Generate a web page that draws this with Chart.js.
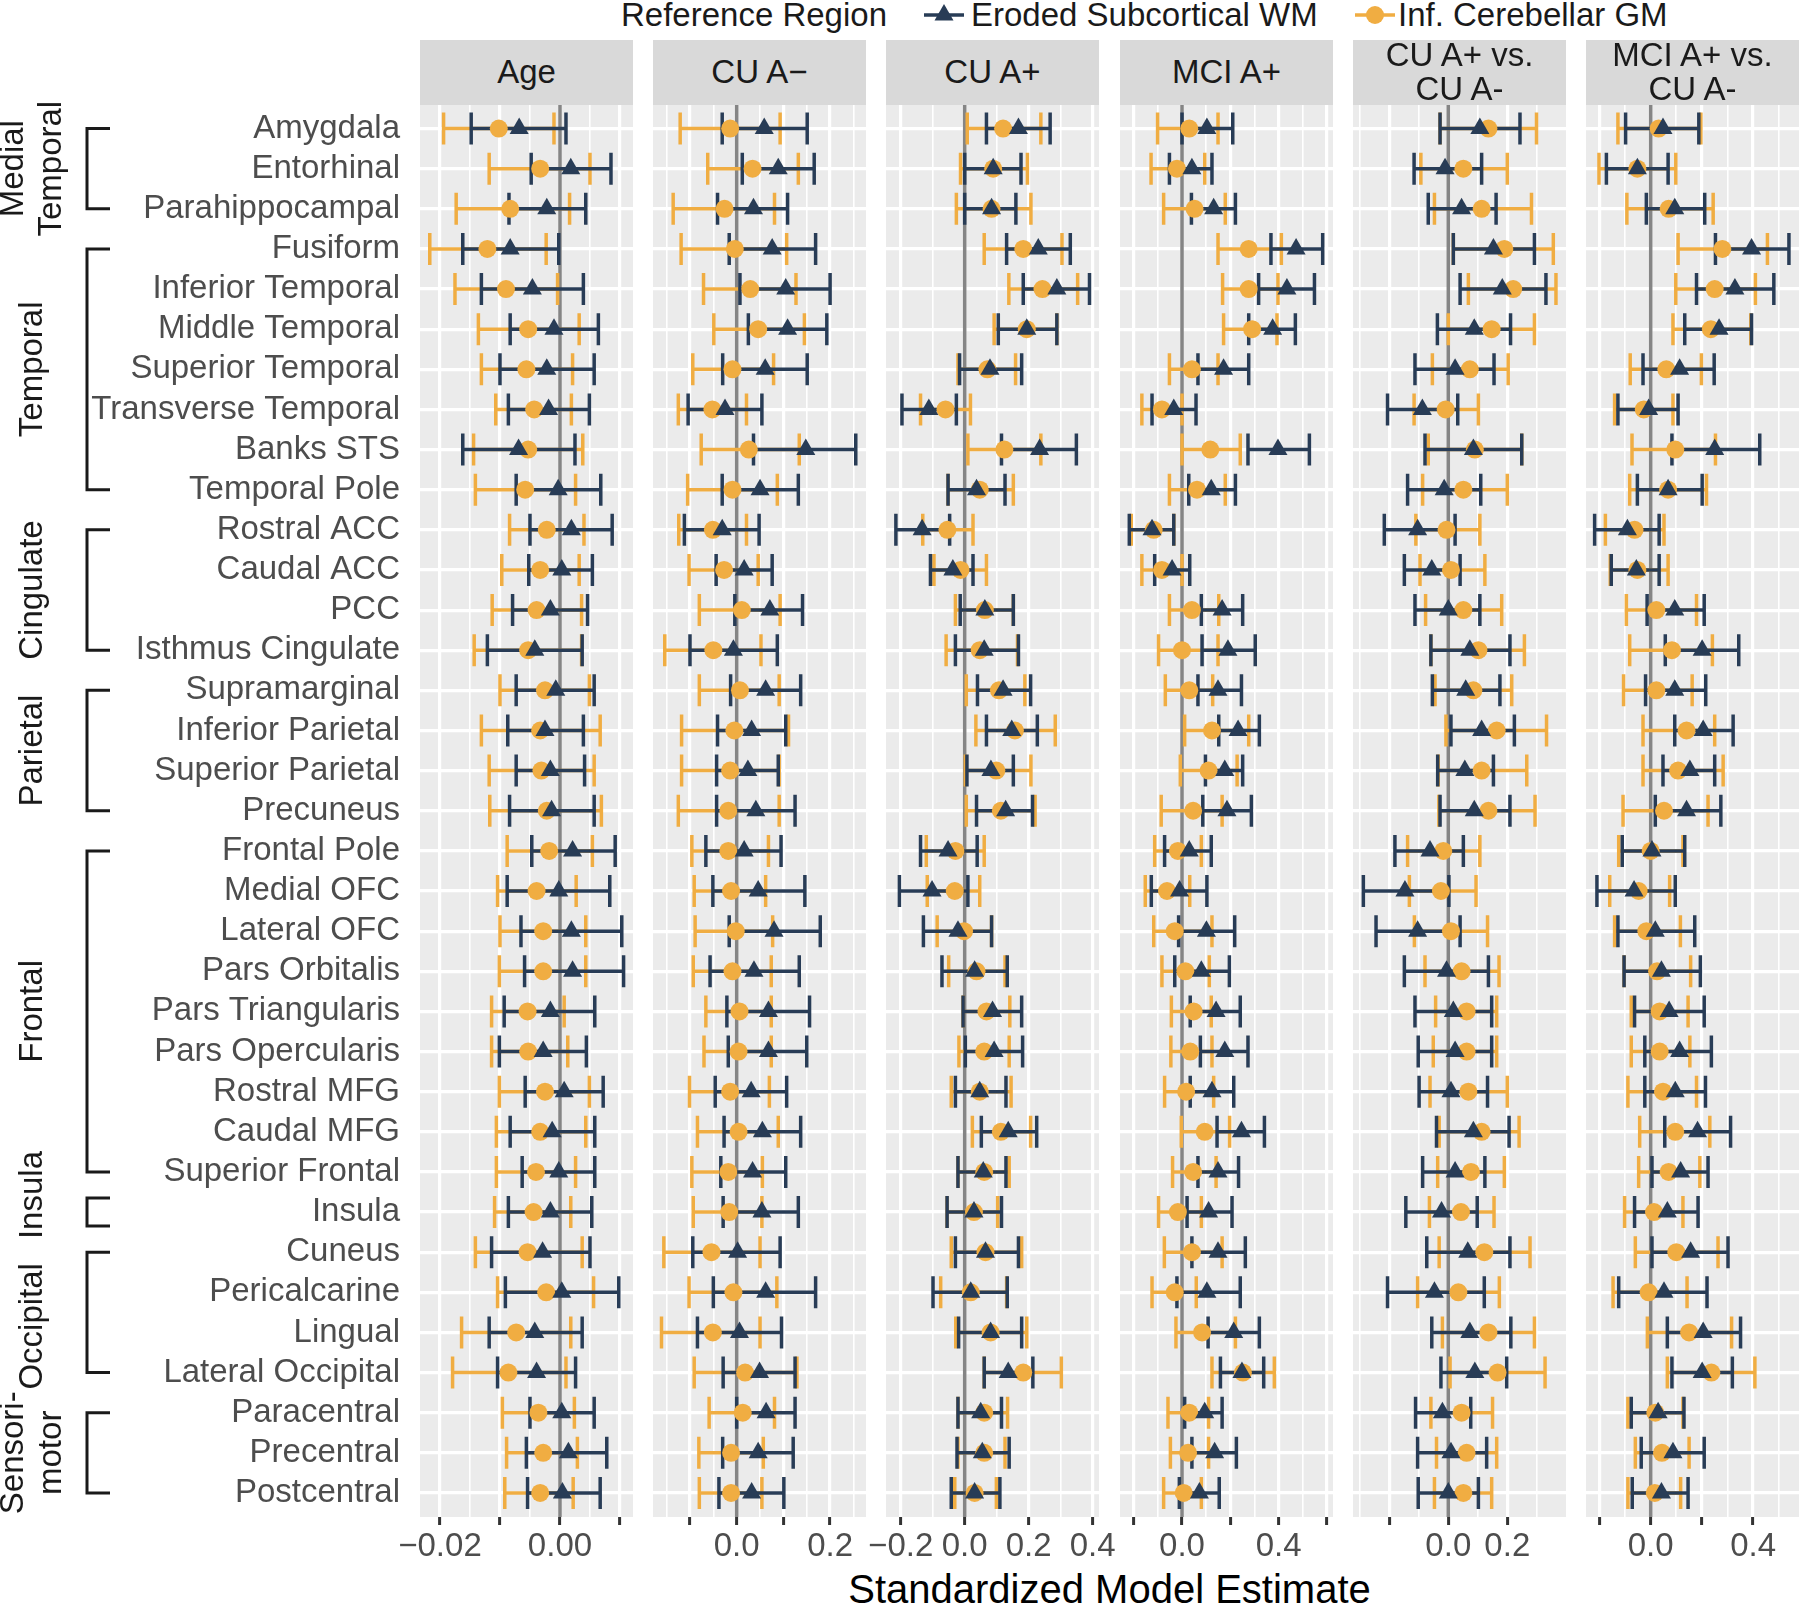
<!DOCTYPE html>
<html>
<head>
<meta charset="utf-8">
<script src="https://cdn.jsdelivr.net/npm/chart.js@4.4.1/dist/chart.umd.min.js"></script>
<style>
html,body{margin:0;padding:0;background:#fff;}
body{width:1800px;height:1605px;position:relative;overflow:hidden;font-family:"Liberation Sans",Arial,sans-serif;}
canvas{position:absolute;top:0;}
.strip{position:absolute;top:40px;height:64.5px;width:213px;background:#d9d9d9;color:#1a1a1a;font-size:33px;line-height:34px;display:flex;align-items:center;justify-content:center;text-align:center;}
.lg{position:absolute;top:-4px;font-size:33px;line-height:38px;color:#1a1a1a;white-space:nowrap;}
.key{position:absolute;top:0;}
#xtitle{position:absolute;left:420px;width:1379px;top:1566px;text-align:center;font-size:40px;line-height:46px;color:#000;}
</style>
</head>
<body>
<div class="lg" style="left:621px">Reference Region</div>
<svg class="key" style="left:922px" width="44" height="30"><line x1="2" y1="15" x2="42" y2="15" stroke="#283c56" stroke-width="3.5"/><polygon points="22,4 31.5,20.5 12.5,20.5" fill="#283c56"/></svg>
<div class="lg" style="left:971px">Eroded Subcortical WM</div>
<svg class="key" style="left:1353px" width="44" height="30"><line x1="2" y1="15" x2="42" y2="15" stroke="#f0ad42" stroke-width="3.5"/><circle cx="22" cy="15" r="9" fill="#f0ad42"/></svg>
<div class="lg" style="left:1398px">Inf. Cerebellar GM</div>
<div id="xtitle">Standardized Model Estimate</div>
<script>
const regions = ["Amygdala","Entorhinal","Parahippocampal","Fusiform","Inferior Temporal","Middle Temporal",
  "Superior Temporal","Transverse Temporal","Banks STS","Temporal Pole","Rostral ACC","Caudal ACC","PCC",
  "Isthmus Cingulate","Supramarginal","Inferior Parietal","Superior Parietal","Precuneus","Frontal Pole",
  "Medial OFC","Lateral OFC","Pars Orbitalis","Pars Triangularis","Pars Opercularis","Rostral MFG",
  "Caudal MFG","Superior Frontal","Insula","Cuneus","Pericalcarine","Lingual","Lateral Occipital",
  "Paracentral","Precentral","Postcentral"];

const groups = [
  {name:"Medial\nTemporal", from:0, to:2},
  {name:"Temporal", from:3, to:9},
  {name:"Cingulate", from:10, to:13},
  {name:"Parietal", from:14, to:17},
  {name:"Frontal", from:18, to:26},
  {name:"Insula", from:27, to:27},
  {name:"Occipital", from:28, to:31},
  {name:"Sensori-\nmotor", from:32, to:34}
];

const panelTitles = ["Age","CU A\u2212","CU A+","MCI A+","CU A+ vs.<br>CU A-","MCI A+ vs.<br>CU A-"];

// [lower, estimate, upper] per region
const ageGM = [[-0.0194,-0.0102,-0.0010],[-0.0118,-0.0033,0.0050],[-0.0173,-0.0083,0.0016],[-0.0217,-0.0121,-0.0023],
[-0.0175,-0.0090,-0.0004],[-0.0136,-0.0053,0.0032],[-0.0131,-0.0056,0.0021],[-0.0107,-0.0043,0.0019],[-0.0144,-0.0053,0.0038],
[-0.0141,-0.0058,0.0026],[-0.0084,-0.0022,0.0040],[-0.0097,-0.0033,0.0032],[-0.0113,-0.0039,0.0036],[-0.0143,-0.0053,0.0036],
[-0.0100,-0.0025,0.0049],[-0.0131,-0.0033,0.0067],[-0.0118,-0.0031,0.0057],[-0.0117,-0.0022,0.0069],[-0.0088,-0.0018,0.0054],
[-0.0104,-0.0039,0.0027],[-0.0100,-0.0028,0.0043],[-0.0101,-0.0028,0.0043],[-0.0114,-0.0054,0.0007],[-0.0114,-0.0053,0.0013],
[-0.0101,-0.0025,0.0049],[-0.0106,-0.0033,0.0043],[-0.0106,-0.0040,0.0026],[-0.0109,-0.0044,0.0018],[-0.0141,-0.0054,0.0037],
[-0.0104,-0.0023,0.0056],[-0.0164,-0.0073,0.0018],[-0.0179,-0.0086,0.0010],[-0.0096,-0.0036,0.0024],[-0.0089,-0.0028,0.0029],
[-0.0092,-0.0033,0.0022]];
const ageWM = [[-0.0148,-0.0068,0.0010],[-0.0048,0.0018,0.0085],[-0.0085,-0.0022,0.0043],[-0.0162,-0.0083,-0.0002],
[-0.0131,-0.0046,0.0039],[-0.0083,-0.0010,0.0064],[-0.0100,-0.0022,0.0057],[-0.0086,-0.0019,0.0049],[-0.0162,-0.0069,0.0025],
[-0.0073,-0.0003,0.0068],[-0.0050,0.0019,0.0087],[-0.0052,0.0003,0.0054],[-0.0079,-0.0016,0.0046],[-0.0121,-0.0042,0.0037],
[-0.0073,-0.0007,0.0057],[-0.0087,-0.0025,0.0039],[-0.0073,-0.0016,0.0041],[-0.0084,-0.0014,0.0057],[-0.0047,0.0021,0.0092],
[-0.0088,-0.0002,0.0083],[-0.0065,0.0019,0.0103],[-0.0059,0.0021,0.0106],[-0.0093,-0.0016,0.0058],[-0.0101,-0.0028,0.0044],
[-0.0058,0.0007,0.0072],[-0.0083,-0.0013,0.0058],[-0.0063,-0.0002,0.0058],[-0.0086,-0.0016,0.0053],[-0.0114,-0.0029,0.0050],
[-0.0091,0.0003,0.0098],[-0.0118,-0.0042,0.0037],[-0.0104,-0.0039,0.0026],[-0.0050,0.0003,0.0057],[-0.0056,0.0014,0.0078],
[-0.0054,0.0004,0.0067]];

const cuNegGM = [[-0.121,-0.014,0.093],[-0.062,0.034,0.132],[-0.136,-0.026,0.081],[-0.119,-0.004,0.107],[-0.071,0.029,0.127],
[-0.049,0.046,0.145],[-0.094,-0.009,0.079],[-0.125,-0.052,0.021],[-0.076,0.026,0.134],[-0.105,-0.009,0.087],[-0.124,-0.051,0.021],
[-0.102,-0.027,0.046],[-0.080,0.011,0.093],[-0.154,-0.050,0.052],[-0.080,0.007,0.091],[-0.118,-0.005,0.111],[-0.118,-0.014,0.091],
[-0.125,-0.018,0.091],[-0.096,-0.018,0.068],[-0.091,-0.012,0.062],[-0.089,-0.002,0.077],[-0.093,-0.009,0.074],[-0.066,0.006,0.074],
[-0.070,0.004,0.074],[-0.101,-0.014,0.070],[-0.084,0.004,0.089],[-0.096,-0.018,0.055],[-0.093,-0.016,0.054],[-0.156,-0.054,0.050],
[-0.102,-0.007,0.086],[-0.161,-0.051,0.050],[-0.091,0.018,0.129],[-0.059,0.013,0.081],[-0.081,-0.012,0.057],[-0.080,-0.012,0.054]];
const cuNegWM = [[-0.031,0.059,0.151],[0.012,0.089,0.166],[-0.041,0.036,0.109],[-0.016,0.076,0.169],[0.007,0.105,0.200],
[0.025,0.109,0.193],[-0.030,0.061,0.151],[-0.104,-0.025,0.054],[0.036,0.148,0.255],[-0.031,0.050,0.132],[-0.112,-0.031,0.048],
[-0.044,0.016,0.076],[-0.004,0.071,0.141],[-0.100,-0.007,0.087],[-0.013,0.062,0.137],[-0.041,0.032,0.105],[-0.043,0.024,0.089],
[-0.043,0.041,0.125],[-0.066,0.016,0.095],[-0.051,0.046,0.146],[-0.016,0.080,0.179],[-0.057,0.037,0.134],[-0.021,0.068,0.156],
[-0.018,0.068,0.150],[-0.046,0.031,0.107],[-0.027,0.055,0.137],[-0.034,0.034,0.105],[-0.029,0.054,0.132],[-0.094,0.002,0.093],
[-0.050,0.062,0.169],[-0.084,0.006,0.096],[-0.029,0.049,0.125],[0.000,0.063,0.125],[-0.030,0.046,0.121],[-0.038,0.032,0.101]];

const cuPosGM = [[0.008,0.120,0.238],[-0.013,0.089,0.196],[-0.026,0.084,0.207],[0.061,0.183,0.304],[0.138,0.243,0.353],
[0.092,0.194,0.288],[-0.021,0.071,0.159],[-0.138,-0.060,0.018],[0.010,0.124,0.238],[-0.052,0.047,0.152],[-0.131,-0.054,0.026],
[-0.096,-0.013,0.068],[-0.029,0.063,0.152],[-0.058,0.047,0.165],[0.005,0.107,0.188],[0.035,0.157,0.283],[0.002,0.099,0.207],
[0.005,0.113,0.220],[-0.120,-0.029,0.061],[-0.117,-0.031,0.047],[-0.086,-0.002,0.084],[-0.050,0.037,0.126],[-0.005,0.068,0.141],
[-0.018,0.061,0.139],[-0.042,0.047,0.145],[0.024,0.113,0.206],[-0.021,0.061,0.139],[-0.055,0.029,0.103],[-0.042,0.065,0.178],
[-0.075,0.019,0.131],[-0.028,0.081,0.194],[0.061,0.183,0.302],[-0.021,0.061,0.134],[-0.021,0.061,0.126],[-0.031,0.031,0.099]];
const cuPosWM = [[0.068,0.168,0.267],[0.000,0.089,0.176],[0.000,0.084,0.160],[0.131,0.230,0.330],[0.183,0.288,0.390],
[0.105,0.194,0.288],[-0.016,0.079,0.178],[-0.196,-0.112,-0.026],[0.115,0.234,0.349],[-0.052,0.037,0.126],[-0.215,-0.133,-0.047],
[-0.107,-0.037,0.026],[-0.014,0.063,0.152],[-0.029,0.061,0.168],[0.040,0.120,0.206],[0.068,0.147,0.227],[0.007,0.082,0.152],
[0.037,0.128,0.212],[-0.138,-0.052,0.039],[-0.204,-0.102,0.010],[-0.129,-0.021,0.084],[-0.071,0.031,0.133],[-0.005,0.087,0.178],
[0.002,0.092,0.181],[-0.029,0.047,0.129],[0.052,0.136,0.225],[-0.021,0.058,0.129],[-0.055,0.029,0.115],[-0.029,0.065,0.168],
[-0.099,0.019,0.133],[-0.019,0.081,0.178],[0.061,0.136,0.213],[-0.021,0.050,0.115],[-0.024,0.055,0.139],[-0.042,0.031,0.110]];

const mciPosGM = [[-0.101,0.030,0.149],[-0.128,-0.021,0.094],[-0.076,0.052,0.179],[0.149,0.276,0.411],[0.168,0.276,0.397],
[0.172,0.290,0.393],[-0.052,0.041,0.149],[-0.166,-0.083,0.000],[0.000,0.117,0.241],[-0.052,0.062,0.179],[-0.210,-0.117,-0.034],
[-0.166,-0.083,0.000],[-0.052,0.041,0.152],[-0.097,0.000,0.149],[-0.069,0.030,0.127],[0.011,0.124,0.276],[-0.007,0.110,0.228],
[-0.086,0.046,0.166],[-0.113,-0.017,0.080],[-0.152,-0.062,0.032],[-0.117,-0.030,0.124],[-0.083,0.014,0.113],[-0.044,0.048,0.121],
[-0.046,0.034,0.124],[-0.072,0.017,0.131],[-0.003,0.094,0.197],[-0.039,0.046,0.141],[-0.097,-0.017,0.080],[-0.073,0.041,0.166],
[-0.124,-0.030,0.059],[-0.025,0.083,0.221],[0.124,0.252,0.382],[-0.058,0.030,0.110],[-0.048,0.025,0.110],[-0.076,0.007,0.080]];
const mciPosWM = [[0.000,0.103,0.210],[-0.052,0.041,0.124],[0.039,0.131,0.221],[0.368,0.472,0.582],[0.317,0.434,0.548],
[0.276,0.375,0.469],[0.066,0.172,0.276],[-0.124,-0.034,0.058],[0.273,0.397,0.527],[0.028,0.121,0.221],[-0.218,-0.124,-0.034],
[-0.113,-0.041,0.032],[0.080,0.166,0.251],[0.083,0.190,0.303],[0.066,0.149,0.246],[0.152,0.232,0.320],[0.097,0.177,0.251],
[0.086,0.186,0.287],[-0.072,0.030,0.121],[-0.127,-0.010,0.103],[-0.014,0.101,0.218],[-0.030,0.080,0.196],[0.034,0.141,0.241],
[0.076,0.177,0.273],[0.034,0.124,0.214],[0.145,0.246,0.341],[0.066,0.149,0.234],[0.021,0.110,0.207],[0.041,0.149,0.262],
[-0.021,0.103,0.241],[0.108,0.214,0.320],[0.159,0.248,0.338],[0.011,0.094,0.166],[0.041,0.135,0.225],[-0.011,0.072,0.154]];

const cuDiffGM = [[-0.028,0.136,0.299],[-0.093,0.051,0.200],[-0.047,0.113,0.282],[0.017,0.190,0.356],[0.068,0.220,0.365],
[0.000,0.147,0.292],[-0.054,0.073,0.203],[-0.116,-0.009,0.102],[-0.068,0.090,0.249],[-0.087,0.051,0.200],[-0.110,-0.006,0.107],
[-0.096,0.009,0.124],[-0.077,0.051,0.181],[-0.059,0.102,0.258],[-0.045,0.085,0.215],[-0.008,0.164,0.333],[-0.034,0.113,0.266],
[-0.032,0.136,0.294],[-0.138,-0.017,0.107],[-0.132,-0.025,0.094],[-0.115,0.009,0.133],[-0.079,0.045,0.172],[-0.043,0.062,0.164],
[-0.051,0.062,0.164],[-0.062,0.068,0.200],[-0.031,0.113,0.240],[-0.036,0.077,0.190],[-0.064,0.043,0.155],[-0.031,0.122,0.277],
[-0.104,0.034,0.173],[-0.020,0.136,0.292],[0.006,0.167,0.328],[-0.059,0.045,0.150],[-0.040,0.062,0.164],[-0.047,0.051,0.147]];
const cuDiffWM = [[-0.028,0.107,0.243],[-0.116,-0.011,0.113],[-0.068,0.045,0.162],[0.017,0.153,0.292],[0.040,0.183,0.331],
[-0.037,0.088,0.211],[-0.113,0.023,0.155],[-0.206,-0.088,0.032],[-0.079,0.085,0.249],[-0.138,-0.014,0.110],[-0.217,-0.104,0.023],
[-0.149,-0.056,0.040],[-0.113,0.000,0.107],[-0.059,0.073,0.209],[-0.054,0.059,0.175],[0.009,0.113,0.224],[-0.036,0.056,0.153],
[-0.028,0.088,0.209],[-0.181,-0.062,0.051],[-0.288,-0.147,0.002],[-0.245,-0.104,0.040],[-0.149,-0.006,0.136],[-0.113,0.017,0.147],
[-0.102,0.023,0.147],[-0.099,0.009,0.133],[-0.040,0.085,0.206],[-0.087,0.023,0.124],[-0.144,-0.023,0.098],[-0.073,0.066,0.209],
[-0.206,-0.047,0.122],[-0.056,0.073,0.212],[-0.025,0.090,0.198],[-0.111,-0.020,0.076],[-0.104,0.009,0.130],[-0.102,0.000,0.102]];

const mciDiffGM = [[-0.128,0.031,0.196],[-0.202,-0.052,0.098],[-0.093,0.070,0.244],[0.107,0.280,0.456],[0.098,0.250,0.409],
[0.087,0.235,0.391],[-0.080,0.061,0.198],[-0.141,-0.027,0.087],[-0.073,0.096,0.253],[-0.082,0.068,0.218],[-0.177,-0.063,0.052],
[-0.158,-0.052,0.068],[-0.095,0.022,0.179],[-0.082,0.083,0.241],[-0.106,0.022,0.162],[-0.030,0.140,0.250],[-0.030,0.107,0.283],
[-0.108,0.052,0.224],[-0.125,0.000,0.126],[-0.160,-0.047,0.074],[-0.141,-0.017,0.116],[-0.104,0.025,0.156],[-0.076,0.035,0.146],
[-0.076,0.035,0.153],[-0.089,0.048,0.179],[-0.043,0.096,0.231],[-0.047,0.070,0.192],[-0.102,0.013,0.126],[-0.060,0.100,0.263],
[-0.147,-0.008,0.142],[-0.013,0.150,0.316],[0.065,0.237,0.407],[-0.089,0.018,0.126],[-0.060,0.044,0.150],[-0.089,0.016,0.117]];
const mciDiffWM = [[-0.098,0.048,0.188],[-0.173,-0.052,0.068],[-0.017,0.094,0.211],[0.253,0.394,0.540],[0.179,0.329,0.481],
[0.133,0.267,0.394],[-0.030,0.113,0.248],[-0.128,-0.008,0.107],[0.083,0.250,0.426],[-0.052,0.068,0.201],[-0.219,-0.091,0.033],
[-0.154,-0.056,0.033],[-0.014,0.094,0.209],[0.057,0.201,0.344],[-0.020,0.094,0.215],[0.094,0.205,0.322],[0.048,0.153,0.250],
[0.018,0.140,0.274],[-0.111,0.005,0.133],[-0.210,-0.065,0.096],[-0.128,0.018,0.172],[-0.104,0.042,0.194],[-0.063,0.072,0.209],
[-0.023,0.113,0.237],[-0.023,0.096,0.214],[0.055,0.183,0.312],[0.005,0.117,0.224],[-0.063,0.065,0.185],[0.005,0.156,0.302],
[-0.125,0.052,0.220],[0.065,0.205,0.351],[0.083,0.201,0.319],[-0.076,0.029,0.130],[-0.037,0.087,0.209],[-0.072,0.042,0.146]];

// major ticks and their labels per panel
const ageTicks = [-0.02,-0.01,0,0.01], ageTickLabels = ["\u22120.02","","0.00",""];
const cuNegTicks = [-0.1,0,0.1,0.2], cuNegTickLabels = ["","0.0","","0.2"];
const cuPosTicks = [-0.2,0,0.2,0.4], cuPosTickLabels = ["\u22120.2","0.0","0.2","0.4"];
const mciPosTicks = [-0.2,0,0.2,0.4,0.6], mciPosTickLabels = ["","0.0","","0.4",""];
const cuDiffTicks = [-0.2,0,0.2], cuDiffTickLabels = ["","0.0","0.2"];
const mciDiffTicks = [-0.2,0,0.2,0.4], mciDiffTickLabels = ["","0.0","","0.4"];

const NAVY = "#283c56", ORANGE = "#f0ad42";
const FONT = "'Liberation Sans', Arial, sans-serif";
Chart.defaults.font.family = FONT;

const panels = [
  {gm:ageGM, wm:ageWM, ticks:ageTicks, labels:ageTickLabels, min:-0.02333, max:0.01217, left:420},
  {gm:cuNegGM, wm:cuNegWM, ticks:cuNegTicks, labels:cuNegTickLabels, min:-0.1792, max:0.2769, left:653},
  {gm:cuPosGM, wm:cuPosWM, ticks:cuPosTicks, labels:cuPosTickLabels, min:-0.2459, max:0.4197, left:886},
  {gm:mciPosGM, wm:mciPosWM, ticks:mciPosTicks, labels:mciPosTickLabels, min:-0.2565, max:0.6247, left:1120},
  {gm:cuDiffGM, wm:cuDiffWM, ticks:cuDiffTicks, labels:cuDiffTickLabels, min:-0.3231, max:0.399, left:1353},
  {gm:mciDiffGM, wm:mciDiffWM, ticks:mciDiffTicks, labels:mciDiffTickLabels, min:-0.2527, max:0.5793, left:1586}
];
const PANEL_W = 213, PANEL_TOP = 104.5, AXIS_H = 88, Y_LABEL_W = 420, SIDE = 30;
const labelNudge = {"Insula": -17, "Occipital": 14};

const panelBg = {
  id: "panelBg",
  beforeDraw(chart) {
    const {ctx, chartArea: a} = chart;
    ctx.save();
    ctx.fillStyle = "#ebebeb";
    ctx.fillRect(a.left, a.top, a.width, a.height);
    ctx.restore();
  }
};

const errorBars = {
  id: "errorBars",
  beforeDatasetsDraw(chart) {
    const {ctx, chartArea: a, scales: {x, y}} = chart;
    ctx.save();
    ctx.beginPath();
    ctx.rect(a.left, a.top, a.width, a.height);
    ctx.clip();
    const x0 = x.getPixelForValue(0);
    ctx.strokeStyle = "#858585";
    ctx.lineWidth = 3.5;
    ctx.beginPath();
    ctx.moveTo(x0, a.top);
    ctx.lineTo(x0, a.bottom);
    ctx.stroke();
    [1, 0].forEach(di => {
      const ds = chart.data.datasets[di];
      ctx.strokeStyle = ds.backgroundColor;
      ctx.lineWidth = 3.5;
      ds.ci.forEach((r, i) => {
        const yy = y.getPixelForValue(i);
        const xl = x.getPixelForValue(r[0]);
        const xh = x.getPixelForValue(r[2]);
        ctx.beginPath();
        ctx.moveTo(xl, yy); ctx.lineTo(xh, yy);
        ctx.moveTo(xl, yy - 16); ctx.lineTo(xl, yy + 16);
        ctx.moveTo(xh, yy - 16); ctx.lineTo(xh, yy + 16);
        ctx.stroke();
      });
    });
    ctx.restore();
  }
};

const groupBrackets = {
  id: "groupBrackets",
  afterDraw(chart) {
    const {ctx, scales: {y}} = chart;
    ctx.save();
    ctx.strokeStyle = "#1a1a1a";
    ctx.fillStyle = "#1a1a1a";
    ctx.lineWidth = 3;
    ctx.font = "33px " + FONT;
    ctx.textAlign = "center";
    ctx.textBaseline = "middle";
    groups.forEach(g => {
      let y1 = y.getPixelForValue(g.from), y2 = y.getPixelForValue(g.to);
      if (g.from === g.to) { y1 -= 14; y2 += 14; }
      ctx.beginPath();
      ctx.moveTo(110, y1); ctx.lineTo(87, y1); ctx.lineTo(87, y2); ctx.lineTo(110, y2);
      ctx.stroke();
      const lines = g.name.split("\n");
      ctx.save();
      ctx.translate(33, (y1 + y2) / 2 + (labelNudge[g.name] || 0));
      ctx.rotate(-Math.PI / 2);
      lines.forEach((t, k) => ctx.fillText(t, 0, (k - (lines.length - 1) / 2) * 38));
      ctx.restore();
    });
    ctx.restore();
  }
};

function tickList(p) {
  const step = p.ticks[1] - p.ticks[0];
  const out = [];
  for (let k = -2; k <= (p.ticks.length - 1) * 2 + 2; k++) {
    const v = +(p.ticks[0] + k * step / 2).toFixed(6);
    if (v < p.min || v > p.max) continue;
    const mi = p.ticks.findIndex(t => Math.abs(t - v) < step / 100);
    out.push({v, major: mi >= 0, label: mi >= 0 ? p.labels[mi] : ""});
  }
  return out;
}

panels.forEach((p, pi) => {
  const first = pi === 0;
  const padL = first ? 0 : SIDE;
  const yW = first ? Y_LABEL_W : 0;
  const canvasLeft = first ? 0 : p.left - SIDE;
  const canvasW = (first ? Y_LABEL_W : SIDE) + PANEL_W + SIDE;

  const cv = document.createElement("canvas");
  cv.width = canvasW;
  cv.height = 1605;
  cv.style.left = canvasLeft + "px";
  document.body.appendChild(cv);

  const strip = document.createElement("div");
  strip.className = "strip";
  strip.style.left = p.left + "px";
  strip.innerHTML = panelTitles[pi];
  document.body.appendChild(strip);

  const tl = tickList(p);
  const infoFor = v => tl.find(t => Math.abs(t.v - v) < 1e-6) || {major: false, label: ""};

  new Chart(cv, {
    type: "scatter",
    data: {
      datasets: [
        {label: "Eroded Subcortical WM", data: p.wm.map((r, i) => ({x: r[1], y: i})), ci: p.wm,
         pointStyle: "triangle", pointRadius: 11, backgroundColor: NAVY, borderWidth: 0},
        {label: "Inf. Cerebellar GM", data: p.gm.map((r, i) => ({x: r[1], y: i})), ci: p.gm,
         pointStyle: "circle", pointRadius: 9, backgroundColor: ORANGE, borderWidth: 0}
      ]
    },
    options: {
      responsive: false,
      animation: false,
      events: [],
      layout: {padding: {left: padL, right: SIDE, top: PANEL_TOP, bottom: 0}},
      plugins: {legend: {display: false}, tooltip: {enabled: false}},
      scales: {
        x: {
          type: "linear", position: "bottom", min: p.min, max: p.max,
          afterBuildTicks: s => { s.ticks = tl.map(t => ({value: t.v})); },
          afterFit: s => { s.height = AXIS_H; },
          border: {display: false},
          grid: {
            color: "#ffffff",
            lineWidth: c => (c.tick && infoFor(c.tick.value).major) ? 3.2 : 1.6,
            drawTicks: true, tickLength: 8, tickWidth: 3,
            tickColor: c => (c.tick && infoFor(c.tick.value).major) ? "#333333" : "rgba(0,0,0,0)"
          },
          ticks: {
            autoSkip: false, maxRotation: 0, padding: 2,
            color: "#4d4d4d", font: {size: 33},
            callback: v => infoFor(v).label
          }
        },
        y: {
          type: "linear", position: "left", min: -0.6, max: 34.6, reverse: true,
          afterBuildTicks: s => { s.ticks = regions.map((_, i) => ({value: i})); },
          afterFit: s => { s.width = yW; },
          border: {display: false},
          grid: {color: "#ffffff", lineWidth: 3.2, drawTicks: false},
          ticks: {
            display: first, autoSkip: false, padding: 20,
            color: "#4d4d4d", font: {size: 33},
            callback: v => regions[v]
          }
        }
      }
    },
    plugins: first ? [panelBg, errorBars, groupBrackets] : [panelBg, errorBars]
  });
});
</script>
</body>
</html>
